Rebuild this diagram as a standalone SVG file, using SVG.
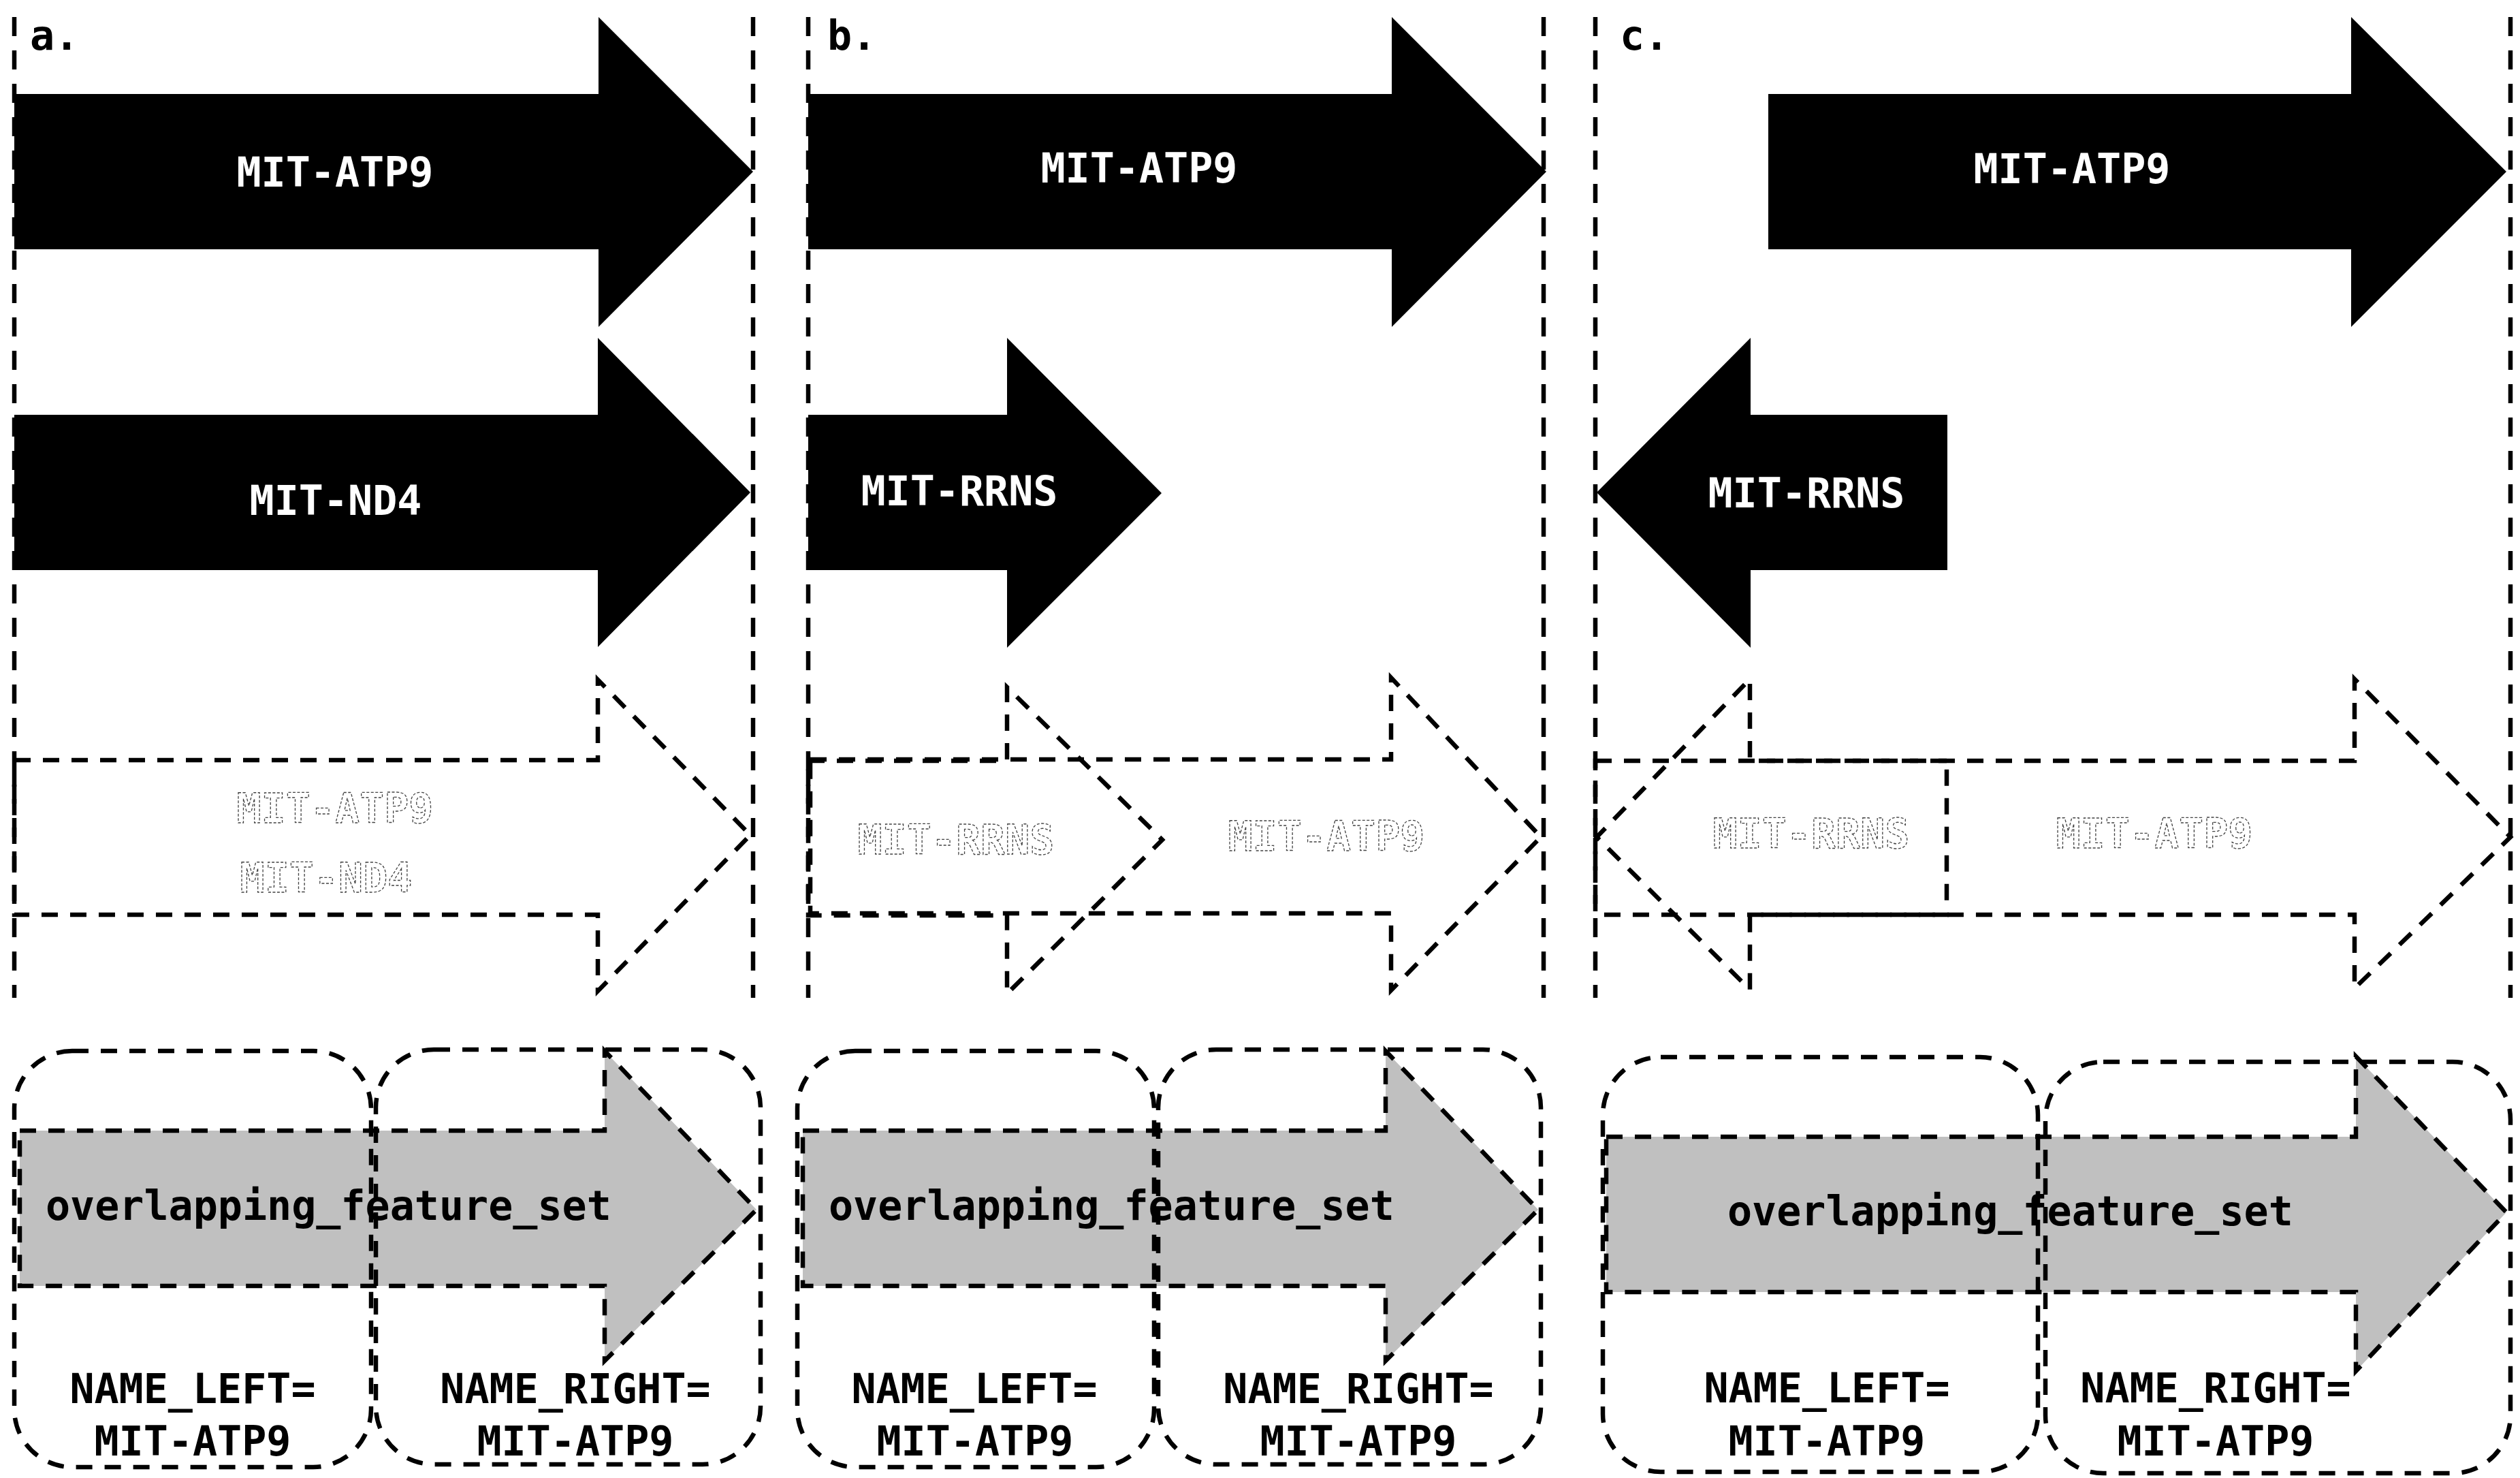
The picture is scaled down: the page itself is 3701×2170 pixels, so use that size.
<svg xmlns="http://www.w3.org/2000/svg" width="3701" height="2170" viewBox="0 0 3701 2170">
<style>
.t{font-family:"DejaVu Sans Mono","Liberation Mono",monospace;font-weight:bold;font-size:60px}
.w{fill:#fff}
.k{fill:#000}
.g{fill:none;stroke:#444;stroke-width:1.3;stroke-dasharray:4 2.5}
.div{stroke:#000;stroke-width:6.5;stroke-dasharray:28 21;fill:none}
.ar{fill:#000}
.ol{fill:none;stroke:#000;stroke-width:6.5;stroke-dasharray:24 18}
.gr{fill:#c0c0c0;stroke:#000;stroke-width:6.5;stroke-dasharray:24 18}
.rr{fill:none;stroke:#000;stroke-width:6.5;stroke-dasharray:24 18}
</style>
<rect width="3701" height="2170" fill="#fff"/>
<g id="panel-labels" class="t k">
<text x="44" y="73">a.</text>
<text x="1215" y="73">b.</text>
<text x="2379" y="73">c.</text>
</g>
<g id="connectors">
<line class="div" x1="21" y1="25" x2="21" y2="1465"/>
<line class="div" x1="1106" y1="25" x2="1106" y2="1465"/>
<line class="div" x1="1187" y1="25" x2="1187" y2="1465"/>
<line class="div" x1="2267" y1="25" x2="2267" y2="1465"/>
<line class="div" x1="2343" y1="25" x2="2343" y2="1465"/>
<line class="div" x1="3687" y1="25" x2="3687" y2="1465"/>
</g>
<g id="a-atp9">
<polygon class="ar" points="21,138 879,138 879,25 1106,252 879,480 879,366 21,366"/>
<text class="t w" x="492" y="274" text-anchor="middle">MIT-ATP9</text>
</g>
<g id="a-nd4">
<polygon class="ar" points="21,609 878,609 878,496 1102,723 878,950 878,837 21,837"/>
<text class="t w" x="493" y="756" text-anchor="middle">MIT-ND4</text>
</g>
<g id="a-merged">
<polygon class="ol" points="21,1116 878,1116 878,998 1102,1226 878,1455 878,1343 21,1343"/>
<text class="t g" x="492" y="1208" text-anchor="middle">MIT-ATP9</text>
<text class="t g" x="479" y="1310" text-anchor="middle">MIT-ND4</text>
</g>
<g id="a-result">
<polygon class="gr" points="29,1660 888,1660 888,1543 1111,1776 888,1998 888,1888 29,1888"/>
<text class="t k" x="67" y="1791">overlapping_feature_set</text>
<rect class="rr" x="21" y="1543" width="524" height="611" rx="85" ry="85"/>
<rect class="rr" x="552" y="1541" width="565" height="609" rx="85" ry="85"/>
<text class="t k" x="283" y="2060" text-anchor="middle">NAME_LEFT=</text>
<text class="t k" x="283" y="2137" text-anchor="middle">MIT-ATP9</text>
<text class="t k" x="845" y="2060" text-anchor="middle">NAME_RIGHT=</text>
<text class="t k" x="845" y="2137" text-anchor="middle">MIT-ATP9</text>
</g>
<g id="b-atp9">
<polygon class="ar" points="1187,138 2044,138 2044,25 2271,252 2044,480 2044,366 1187,366"/>
<text class="t w" x="1673" y="268" text-anchor="middle">MIT-ATP9</text>
</g>
<g id="b-rrns">
<polygon class="ar" points="1187,609 1479,609 1479,496 1706,724 1479,951 1479,837 1187,837"/>
<text class="t w" x="1409" y="742" text-anchor="middle">MIT-RRNS</text>
</g>
<g id="b-merged">
<polygon class="ol" points="1187,1117 1479,1117 1479,1009 1707,1233 1479,1459 1479,1344 1187,1344"/>
<polygon class="ol" points="1190,1115 2043,1115 2043,995 2263,1229 2043,1454 2043,1341 1190,1341"/>
<text class="t g" x="1404" y="1254" text-anchor="middle">MIT-RRNS</text>
<text class="t g" x="1948" y="1249" text-anchor="middle">MIT-ATP9</text>
</g>
<g id="b-result">
<polygon class="gr" points="1179,1660 2035,1660 2035,1543 2259,1776 2035,1998 2035,1888 1179,1888"/>
<text class="t k" x="1217" y="1791">overlapping_feature_set</text>
<rect class="rr" x="1171" y="1543" width="524" height="611" rx="85" ry="85"/>
<rect class="rr" x="1701" y="1541" width="562" height="609" rx="85" ry="85"/>
<text class="t k" x="1431" y="2060" text-anchor="middle">NAME_LEFT=</text>
<text class="t k" x="1432" y="2137" text-anchor="middle">MIT-ATP9</text>
<text class="t k" x="1995" y="2060" text-anchor="middle">NAME_RIGHT=</text>
<text class="t k" x="1995" y="2137" text-anchor="middle">MIT-ATP9</text>
</g>
<g id="c-atp9">
<polygon class="ar" points="2597,138 3453,138 3453,25 3681,252 3453,480 3453,366 2597,366"/>
<text class="t w" x="3043" y="269" text-anchor="middle">MIT-ATP9</text>
</g>
<g id="c-rrns">
<polygon class="ar" points="2860,609 2571,609 2571,496 2345,723 2571,951 2571,837 2860,837"/>
<text class="t w" x="2653" y="745" text-anchor="middle">MIT-RRNS</text>
</g>
<g id="c-merged">
<polygon class="ol" points="2859,1117 2570,1117 2570,997 2345,1229 2570,1453 2570,1343 2859,1343"/>
<polygon class="ol" points="2343,1117 3458,1117 3458,997 3687,1229 3458,1451 3458,1343 2343,1343"/>
<text class="t g" x="2660" y="1245" text-anchor="middle">MIT-RRNS</text>
<text class="t g" x="3164" y="1245" text-anchor="middle">MIT-ATP9</text>
</g>
<g id="c-result">
<polygon class="gr" points="2359,1669 3460,1669 3460,1551 3681,1780 3460,2013 3460,1897 2359,1897"/>
<text class="t k" x="2537" y="1799">overlapping_feature_set</text>
<rect class="rr" x="2354" y="1552" width="639" height="609" rx="85" ry="85"/>
<rect class="rr" x="3004" y="1559" width="683" height="604" rx="85" ry="85"/>
<text class="t k" x="2683" y="2059" text-anchor="middle">NAME_LEFT=</text>
<text class="t k" x="2683" y="2137" text-anchor="middle">MIT-ATP9</text>
<text class="t k" x="3254" y="2059" text-anchor="middle">NAME_RIGHT=</text>
<text class="t k" x="3254" y="2137" text-anchor="middle">MIT-ATP9</text>
</g>
</svg>
